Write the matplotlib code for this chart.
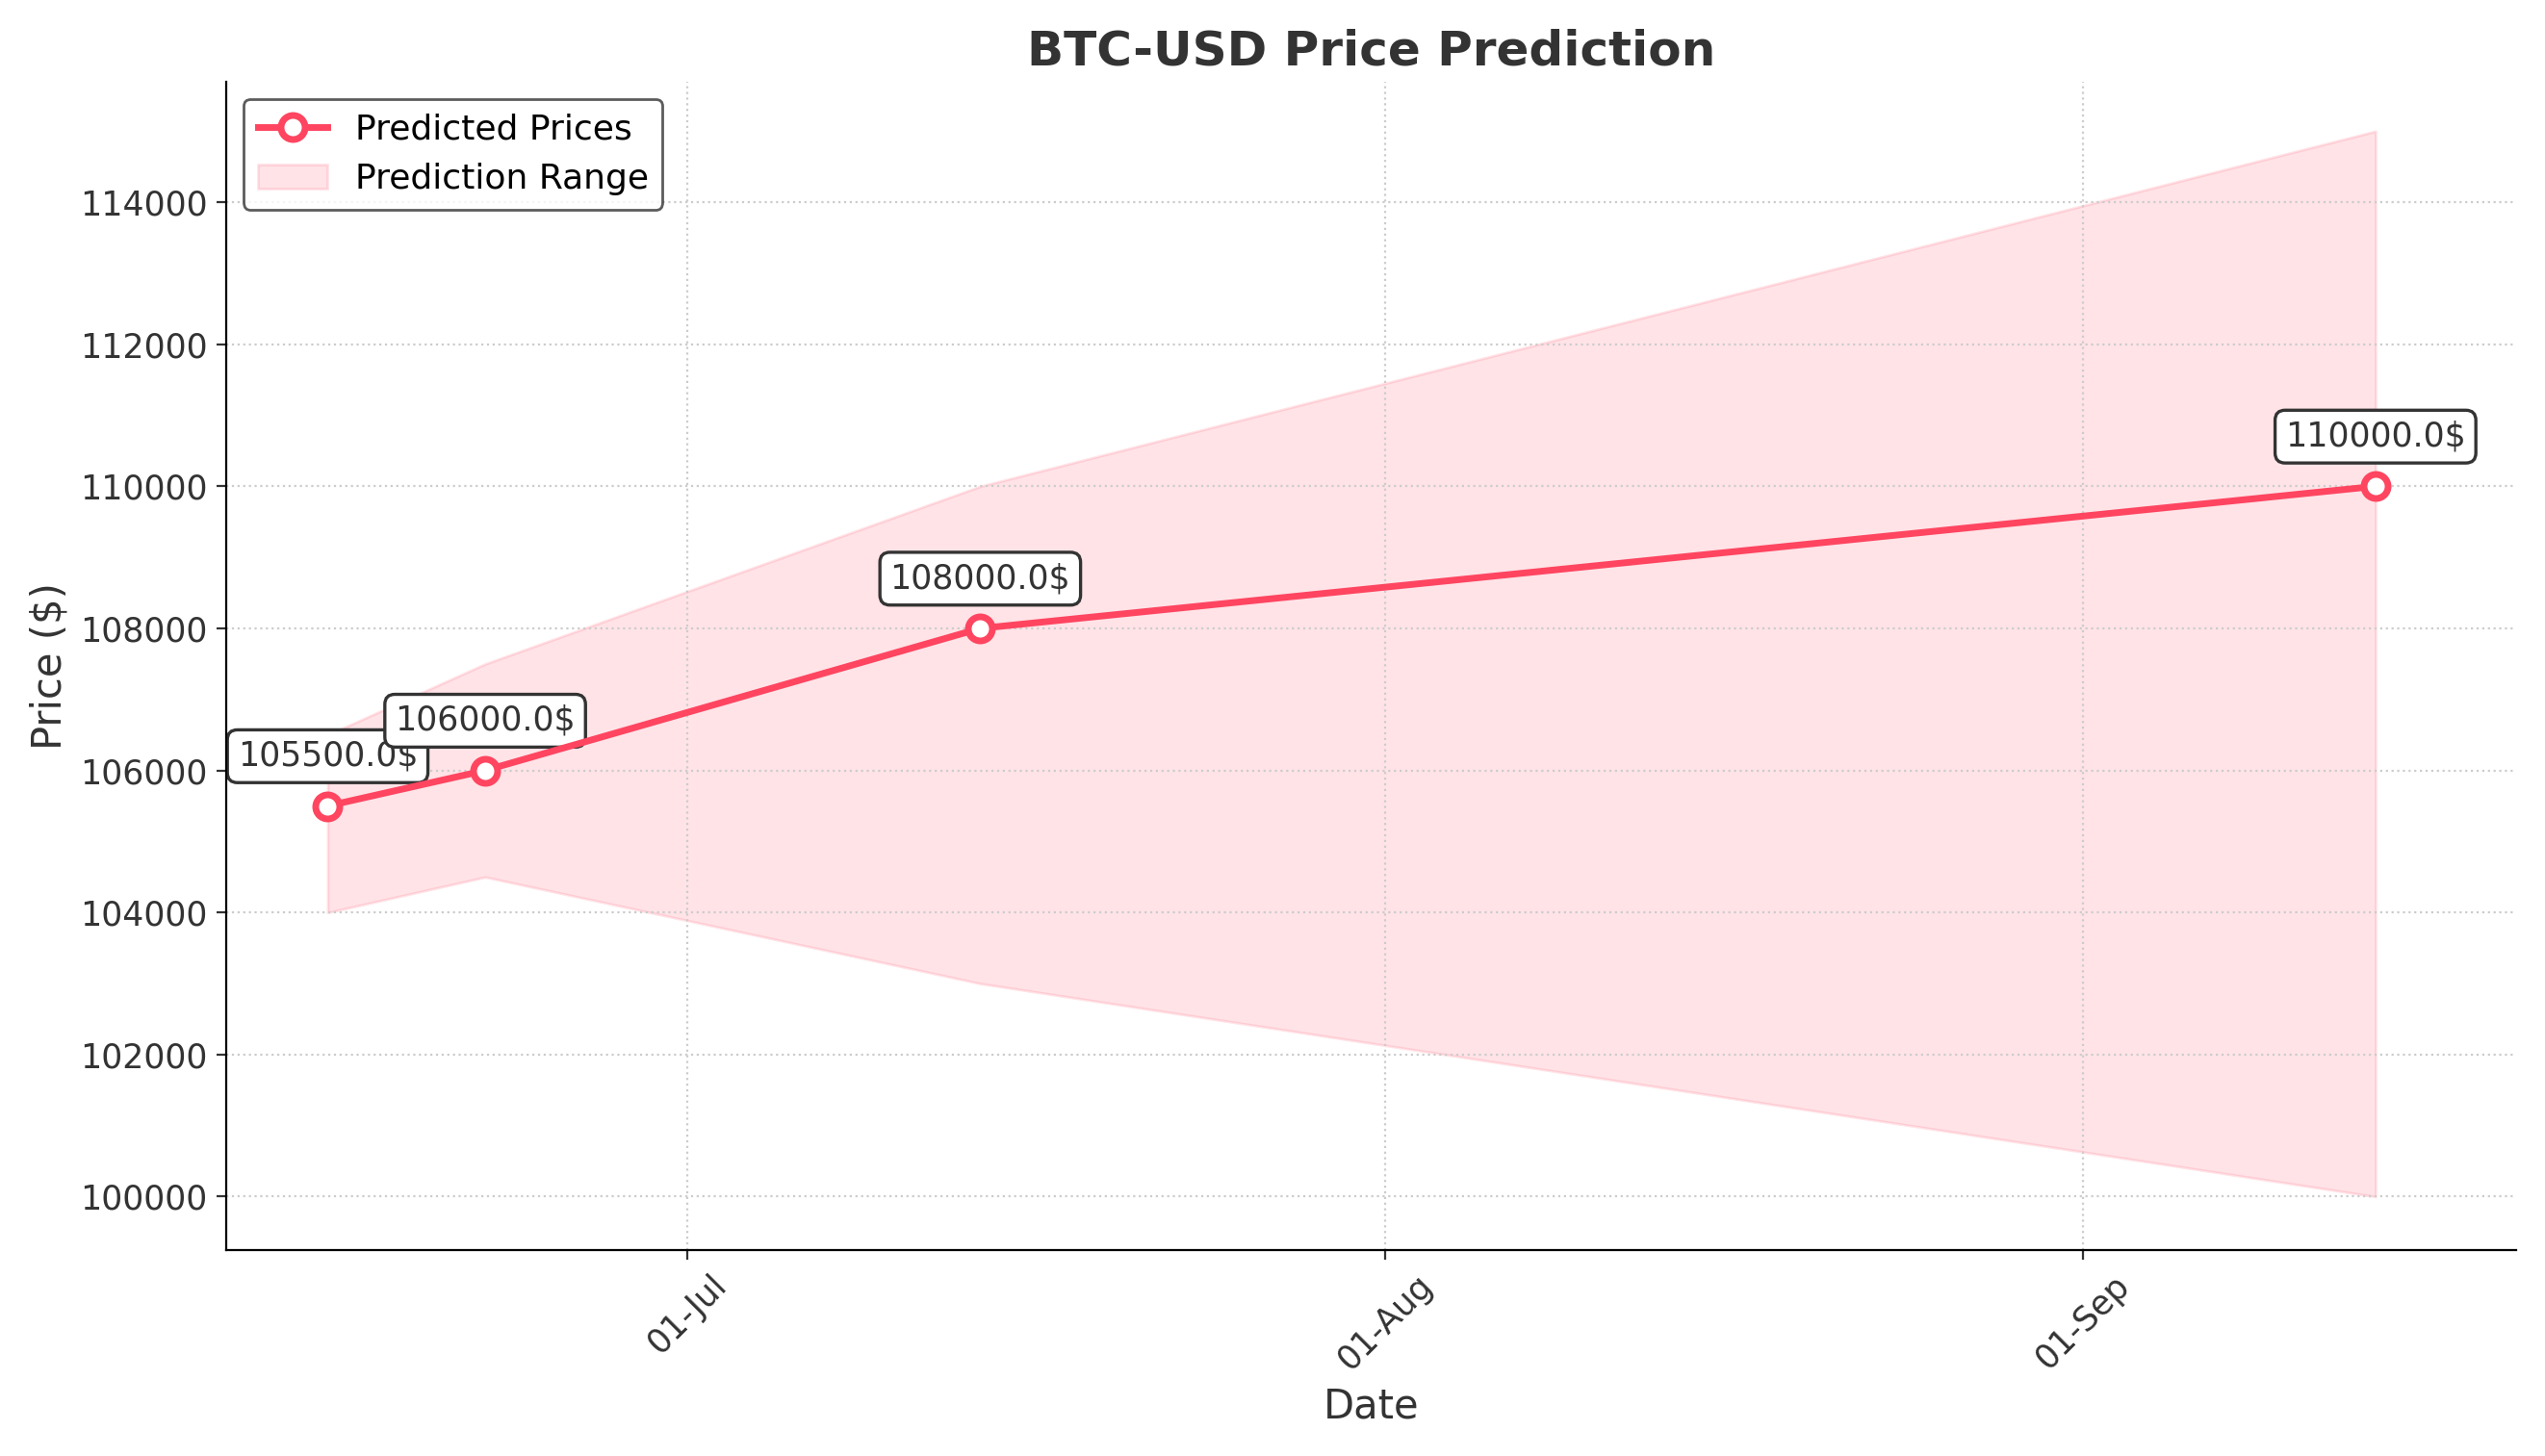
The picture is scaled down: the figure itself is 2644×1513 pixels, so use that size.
import matplotlib
matplotlib.use("Agg")
import matplotlib.pyplot as plt
import matplotlib.dates as mdates
import pandas as pd

dates = ["2025-06-15", "2025-06-22", "2025-07-14", "2025-09-14"]
predicted = [105500, 106000, 108000, 110000]
lower = [104000, 104500, 103000, 100000]
upper = [106500, 107500, 110000, 115000]

x = pd.to_datetime(dates)
color = "#ff4560"
fig, ax = plt.subplots(figsize=(13.22, 7.565), dpi=200)
ax.fill_between(x, lower, upper, color=color, alpha=0.15, label="Prediction Range")
ax.plot(x, predicted, color=color, lw=2.5, marker="o", markersize=9,
        markerfacecolor="white", markeredgewidth=2.5, label="Predicted Prices", zorder=3)
for xi, yi in zip(x, predicted):
    ax.annotate(f"{float(yi)}$", (xi, yi), xytext=(0, 15), textcoords="offset points",
                ha="center", fontsize=12.5, color="#333333", zorder=2,
                bbox=dict(boxstyle="round,pad=0.3", fc="white", ec="#333333", lw=1.2))
ax.set_title("BTC-USD Price Prediction", fontsize=18, fontweight="bold", color="#333333")
ax.set_xlabel("Date", fontsize=15, color="#333333")
ax.set_ylabel("Price ($)", fontsize=15, color="#333333")
ax.xaxis.set_major_locator(mdates.MonthLocator())
ax.xaxis.set_major_formatter(mdates.DateFormatter("%d-%b"))
plt.setp(ax.get_xticklabels(), rotation=45)
ax.tick_params(labelsize=12.5, colors="#333333")
ax.grid(True, linestyle=":", color="#cccccc")
for s in ["top", "right"]:
    ax.spines[s].set_visible(False)
h, l = ax.get_legend_handles_labels()
ax.legend(h[::-1], l[::-1], loc="upper left", fontsize=13, edgecolor="#333333")
ax.set_ylim(99250, 115700)
ax.set_xlim(pd.Timestamp("2025-06-10 12:00"), pd.Timestamp("2025-09-20 06:00"))
fig.tight_layout()
fig.savefig("out.png")
